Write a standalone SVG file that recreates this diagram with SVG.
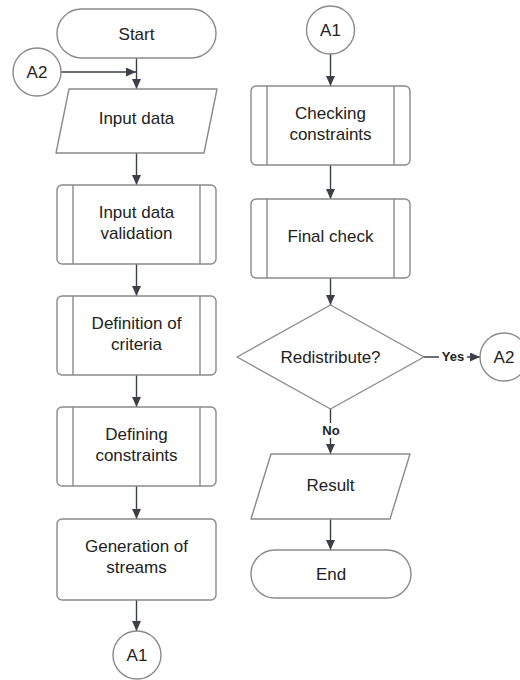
<svg xmlns="http://www.w3.org/2000/svg" width="520" height="680" viewBox="0 0 520 680">
<defs>
<marker id="arr" markerWidth="10" markerHeight="9" refX="10" refY="4.5" orient="auto" markerUnits="userSpaceOnUse"><path d="M0,0 L10,4.5 L0,9 z" fill="#3b3f47"/></marker>
<style>
.sh{fill:#fff;stroke:#8a8a8a;stroke-width:1.4;stroke-linejoin:round}
.in{stroke:#8a8a8a;stroke-width:1.4}
.t{font-family:"Liberation Sans",Arial,sans-serif;font-size:17px;fill:#222;text-anchor:middle}
.l{font-family:"Liberation Sans",Arial,sans-serif;font-size:13px;font-weight:bold;fill:#222;text-anchor:middle}
.c{stroke:#3b3f47;stroke-width:1.4;fill:none}
</style>
</defs>
<rect width="520" height="680" fill="#fff"/>
<g id="connectors">
<line class="c" x1="136.5" y1="58" x2="136.5" y2="89" marker-end="url(#arr)"/>
<line class="c" x1="61" y1="72" x2="136" y2="72" marker-end="url(#arr)"/>
<line class="c" x1="136.5" y1="153" x2="136.5" y2="185" marker-end="url(#arr)"/>
<line class="c" x1="136.5" y1="264" x2="136.5" y2="296" marker-end="url(#arr)"/>
<line class="c" x1="136.5" y1="375" x2="136.5" y2="407" marker-end="url(#arr)"/>
<line class="c" x1="136.5" y1="486" x2="136.5" y2="519" marker-end="url(#arr)"/>
<line class="c" x1="136.5" y1="600" x2="136.5" y2="631" marker-end="url(#arr)"/>
<line class="c" x1="330.5" y1="54" x2="330.5" y2="86" marker-end="url(#arr)"/>
<line class="c" x1="330.5" y1="165" x2="330.5" y2="199" marker-end="url(#arr)"/>
<line class="c" x1="330.5" y1="278" x2="330.5" y2="305" marker-end="url(#arr)"/>
<line class="c" x1="424" y1="357" x2="480" y2="357" marker-end="url(#arr)"/>
<rect x="439" y="349" width="28" height="15" fill="#fff"/>
<text class="l" x="453" y="361">Yes</text>
<line class="c" x1="330.5" y1="409" x2="330.5" y2="454" marker-end="url(#arr)"/>
<rect x="318" y="423" width="26" height="15" fill="#fff"/>
<text class="l" x="331" y="435">No</text>
<line class="c" x1="330.5" y1="519" x2="330.5" y2="550" marker-end="url(#arr)"/>
</g>
<g id="start"><rect class="sh" x="57" y="9" width="159" height="49" rx="24.5"/><text class="t" x="136.5" y="39.5">Start</text></g>
<g id="a2-left"><circle class="sh" cx="37" cy="72" r="24"/><text class="t" x="37" y="78">A2</text></g>
<g id="input-data"><polygon class="sh" points="69,89 217,89 204,153 56,153"/><text class="t" x="136.5" y="124">Input data</text></g>
<g id="validation"><rect class="sh" x="57" y="185" width="159" height="79" rx="5"/><line class="in" x1="73" y1="185" x2="73" y2="264"/><line class="in" x1="200" y1="185" x2="200" y2="264"/><text class="t" x="136.5" y="218">Input data</text><text class="t" x="136.5" y="238.5">validation</text></g>
<g id="criteria"><rect class="sh" x="57" y="296" width="159" height="79" rx="5"/><line class="in" x1="73" y1="296" x2="73" y2="375"/><line class="in" x1="200" y1="296" x2="200" y2="375"/><text class="t" x="136.5" y="329">Definition of</text><text class="t" x="136.5" y="349.5">criteria</text></g>
<g id="constraints"><rect class="sh" x="57" y="407" width="159" height="79" rx="5"/><line class="in" x1="73" y1="407" x2="73" y2="486"/><line class="in" x1="200" y1="407" x2="200" y2="486"/><text class="t" x="136.5" y="440">Defining</text><text class="t" x="136.5" y="460.5">constraints</text></g>
<g id="generation"><rect class="sh" x="57" y="519" width="159" height="81" rx="5"/><text class="t" x="136.5" y="552">Generation of</text><text class="t" x="136.5" y="573">streams</text></g>
<g id="a1-left"><circle class="sh" cx="137" cy="655" r="24"/><text class="t" x="137" y="661">A1</text></g>
<g id="a1-right"><circle class="sh" cx="330.5" cy="30" r="24"/><text class="t" x="330.5" y="36">A1</text></g>
<g id="checking"><rect class="sh" x="251" y="86" width="159" height="79" rx="5"/><line class="in" x1="267" y1="86" x2="267" y2="165"/><line class="in" x1="394" y1="86" x2="394" y2="165"/><text class="t" x="330.5" y="119">Checking</text><text class="t" x="330.5" y="140">constraints</text></g>
<g id="final-check"><rect class="sh" x="251" y="199" width="159" height="79" rx="5"/><line class="in" x1="267" y1="199" x2="267" y2="278"/><line class="in" x1="394" y1="199" x2="394" y2="278"/><text class="t" x="330.5" y="242">Final check</text></g>
<g id="redistribute"><polygon class="sh" points="330.5,305 424,357 330.5,409 237,357"/><text class="t" x="330.5" y="363">Redistribute?</text></g>
<g id="a2-right"><circle class="sh" cx="504" cy="357" r="24"/><text class="t" x="504" y="363">A2</text></g>
<g id="result"><polygon class="sh" points="271,454 410,454 390,519 251,519"/><text class="t" x="330.5" y="491">Result</text></g>
<g id="end"><rect class="sh" x="251" y="550" width="160" height="48" rx="24"/><text class="t" x="331" y="580">End</text></g>
</svg>
